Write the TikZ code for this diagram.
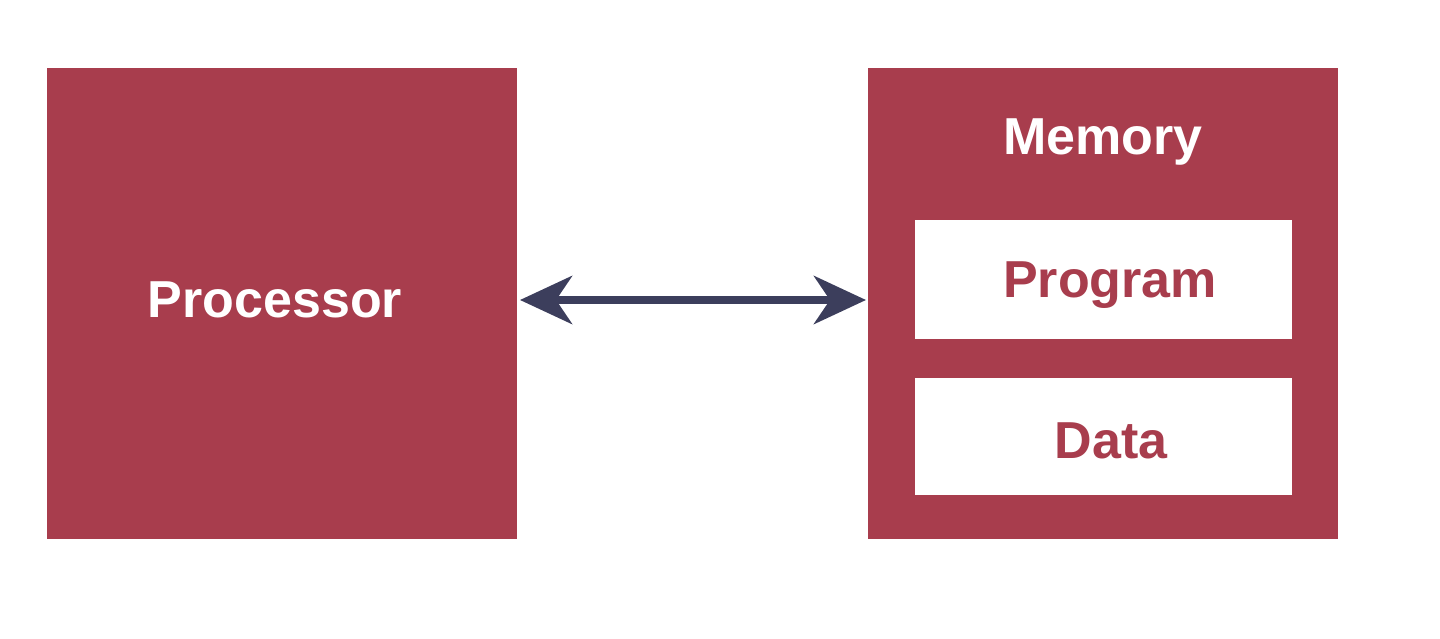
\documentclass[tikz,border=0pt]{standalone}
\usepackage{fontspec}
\setmainfont{Liberation Sans}
\usetikzlibrary{arrows.meta}
\definecolor{boxred}{RGB}{168,61,77}
\definecolor{arrownavy}{RGB}{60,62,92}
\begin{document}
\begin{tikzpicture}[x=1pt,y=-1pt,
  redbox/.style={fill=boxred,draw=none,inner sep=0pt,outer sep=0pt},
  whitebox/.style={fill=white,draw=none,inner sep=0pt,outer sep=0pt},
  lbl/.style={font=\fontsize{52}{60}\selectfont\bfseries,inner sep=0pt,anchor=base},
  bus/.style={draw=arrownavy,line width=8pt,{Stealth[length=52pt,width=48pt,inset=16pt]}-{Stealth[length=52pt,width=48pt,inset=16pt]}}]
\useasboundingbox (0,0) rectangle (1440,639);
\fill[white] (0,0) rectangle (1440,639);
\node[redbox,minimum width=470pt,minimum height=471pt] (proc) at (282,303.5) {};
\node[redbox,minimum width=470pt,minimum height=471pt] (mem) at (1103,303.5) {};
\node[whitebox,minimum width=377pt,minimum height=118pt] (prog) at (1103.5,279.5) {};
\node[whitebox,minimum width=377pt,minimum height=117pt] (data) at (1103.5,436.5) {};
\node[lbl,text=white] (proclbl) at (275,317) {Processor};
\node[lbl,text=white] (memlbl) at (1103,155) {Memory};
\node[lbl,text=boxred] (proglbl) at (1110,297) {Program};
\node[lbl,text=boxred] (datalbl) at (1111,458) {Data};
\draw[bus] ([xshift=3pt,yshift=3.5pt]proc.east) -- ([xshift=-2pt,yshift=3.5pt]mem.west);
\end{tikzpicture}
\end{document}
